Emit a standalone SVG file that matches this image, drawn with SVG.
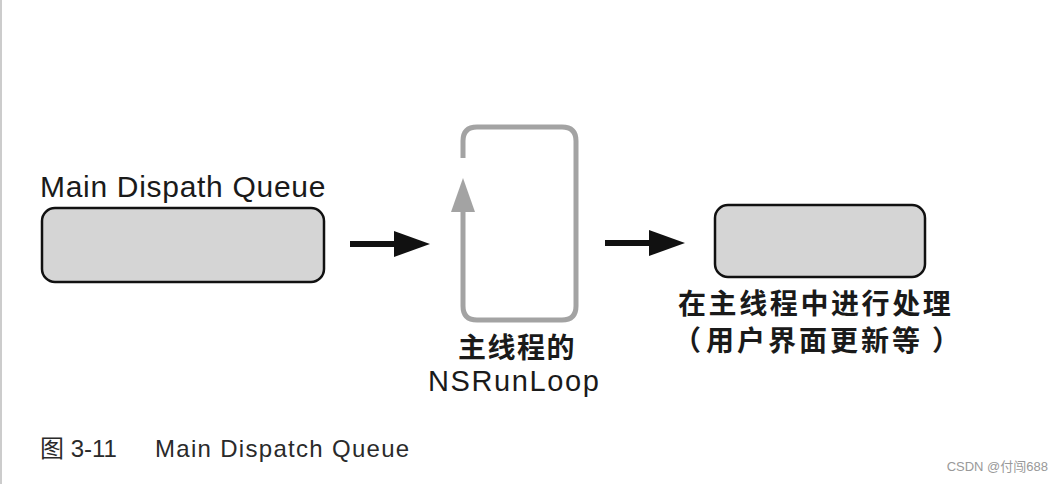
<svg xmlns="http://www.w3.org/2000/svg" width="1064" height="484" viewBox="0 0 1064 484">
<style>
.box{fill:#d5d5d5;stroke:#111;stroke-width:2.5}
.lbl{font-family:"Liberation Sans","Noto Sans CJK SC",sans-serif;fill:#1a1a1a}
.cjk{font-family:"Noto Sans CJK SC",sans-serif;fill:#1a1a1a;font-weight:bold}
.arr{fill:#111}
</style>
<rect width="1064" height="484" fill="#fff"/>
<line x1="1" y1="0" x2="1" y2="484" stroke="#ccc" stroke-width="2"/>
<g id="main-queue">
<text class="lbl" x="40" y="197" font-size="30" letter-spacing="0.7">Main Dispath Queue</text>
<rect class="box" x="42" y="208" width="282" height="74" rx="13"/>
</g>
<g id="runloop">
<path d="M463,158 L463,141 Q463,127 477,127 L562,127 Q576,127 576,141 L576,306 Q576,320 562,320 L477,320 Q463,320 463,306 L463,205" fill="none" stroke="#a3a3a3" stroke-width="5"/>
<polygon points="463,178 451,212 475,212" fill="#a3a3a3"/>
<text class="cjk" x="517" y="358" font-size="28" text-anchor="middle" letter-spacing="1.5">主线程的</text>
<text class="lbl" x="428" y="391" font-size="29" letter-spacing="1.6">NSRunLoop</text>
</g>
<g id="process">
<rect class="box" x="715" y="205" width="210" height="72" rx="13"/>
<text class="cjk" x="678" y="314" font-size="28" letter-spacing="2.6">在主线程中进行处理</text>
<text class="cjk" font-size="28" y="351"><tspan x="673">（</tspan><tspan x="706" letter-spacing="3">用户界面更新等</tspan><tspan x="932">）</tspan></text>
</g>
<g id="connectors">
<rect class="arr" x="350" y="241" width="46" height="6"/>
<polygon class="arr" points="394,231 430,244 394,257"/>
<rect class="arr" x="605" y="240" width="46" height="6"/>
<polygon class="arr" points="649,230 685,243 649,256"/>
</g>
<g id="caption" font-family="'Liberation Sans','Noto Sans CJK SC',sans-serif" fill="#2a2a2a" font-size="24">
<text x="40" y="457">图 3-11</text>
<text x="155" y="457" letter-spacing="1.3">Main Dispatch Queue</text>
</g>
<text x="1048" y="471" font-size="13" fill="#999" text-anchor="end" font-family="'Liberation Sans','Noto Sans CJK SC',sans-serif">CSDN @付闯688</text>
</svg>
